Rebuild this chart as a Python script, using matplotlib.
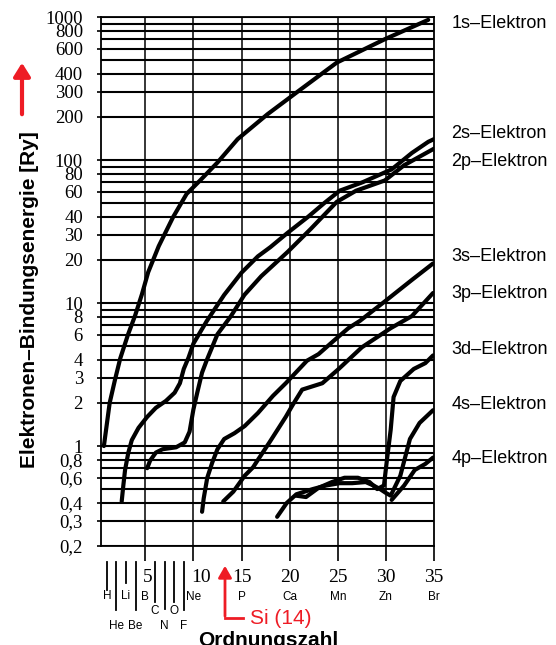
import numpy as np
import matplotlib
matplotlib.use('Agg')
import matplotlib.pyplot as plt
from matplotlib import transforms

plt.rcParams['font.family'] = ['Liberation Sans', 'DejaVu Sans']

# binding energies [Ry], x = atomic number
z_1s = [0.7, 1.3, 1.85, 2.4, 3.2, 3.95, 4.65, 5.3, 6.4, 7.9, 9.3, 10.7, 12.5, 14.6, 17.7, 21.1, 24.9, 29.9, 34.4]
e_1s = [1.0, 2.0, 2.9, 4.1, 6.0, 8.2, 11.5, 16.4, 25, 40, 58, 72, 96, 140, 209, 310, 480, 700, 955]

z_2s = [2.55, 2.72, 2.9, 3.24, 3.6, 4.3, 5.2, 6.1, 7.15, 8.05, 8.6, 9.0, 9.5, 10.0, 11.4, 13.2, 15.0, 16.7,
        18.0, 19.8, 21.9, 23.6, 25.2, 27.6, 30.6, 32.7, 34.4, 35.0]
e_2s = [0.41, 0.53, 0.68, 0.9, 1.1, 1.34, 1.6, 1.85, 2.07, 2.36, 2.75, 3.46, 4.16, 5.2, 7.5, 11.4, 16.3, 21.2,
        24.6, 31, 40, 50, 61, 70, 86, 112, 134, 140]

z_2p = [5.2, 5.5, 6.1, 6.8, 8.2, 9.1, 9.6, 10.0, 10.4, 10.9, 11.4, 12.5, 13.9, 15.3, 17.05, 19.8, 22.2, 24.9,
        26.9, 29.9, 31.9, 34.6, 35.0]
e_2p = [0.70, 0.79, 0.9, 0.95, 0.98, 1.06, 1.26, 1.8, 2.36, 3.26, 4.0, 6.05, 8.1, 11.4, 15.4, 22.8, 33, 51,
        61, 72, 92, 116, 120]

z_3s = [10.9, 11.07, 11.44, 11.97, 12.5, 13.2, 14.27, 15.33, 16.7, 18.26, 19.6, 21.8, 23.0, 24.6, 26.1, 27.3,
        30.0, 32.7, 34.9]
e_3s = [0.347, 0.43, 0.6, 0.77, 0.95, 1.12, 1.23, 1.38, 1.7, 2.24, 2.75, 3.95, 4.39, 5.46, 6.67, 7.5,
        10.4, 14.5, 18.9]

z_3p = [13.1, 14.15, 15.33, 16.2, 16.7, 17.9, 19.6, 20.3, 21.3, 23.4, 25.1, 27.5, 30.5, 32.7, 34.9]
e_3p = [0.41, 0.48, 0.62, 0.71, 0.8, 1.06, 1.6, 1.93, 2.48, 2.75, 3.46, 4.9, 6.67, 8.1, 11.75]

z_3d = [20.65, 21.7, 23.0, 24.4, 25.7, 27.1, 28.3, 29.1, 29.8, 30.1, 30.5, 30.8, 31.5, 32.9, 34.1, 34.9]
e_3d = [0.45, 0.44, 0.51, 0.56, 0.6, 0.6, 0.56, 0.5, 0.53, 0.79, 1.3, 2.2, 2.85, 3.46, 3.8, 4.3]

z_4s = [18.7, 19.7, 20.7, 22.4, 23.8, 25.2, 26.5, 27.9, 28.7, 29.4, 30.0, 30.5, 31.5, 32.5, 33.5, 34.9]
e_4s = [0.32, 0.40, 0.46, 0.50, 0.53, 0.55, 0.55, 0.56, 0.53, 0.50, 0.47, 0.45, 0.62, 1.12, 1.45, 1.78]

z_4p = [30.6, 31.9, 33.0, 34.1, 34.9]
e_4p = [0.42, 0.53, 0.68, 0.75, 0.83]

curves = [(z_1s, e_1s), (z_2s, e_2s), (z_2p, e_2p), (z_3s, e_3s), (z_3p, e_3p),
          (z_3d, e_3d), (z_4s, e_4s), (z_4p, e_4p)]

# right-hand curve names and where they sit
names = ['1s', '2s', '2p', '3s', '3p', '3d', '4s', '4p']
name_y = [900, 154, 98, 21.3, 11.7, 4.7, 1.95, 0.82]

y_ticks = [1000, 800, 600, 400, 300, 200, 100, 80, 60, 40, 30, 20, 10, 8, 6, 4, 3, 2,
           1, 0.8, 0.6, 0.4, 0.3, 0.2]
y_ticklabels = ['1000', '800', '600', '400', '300', '200', '100', '80', '60', '40', '30', '20',
                '10', '8', '6', '4', '3', '2', '1', '0,8', '0,6', '0,4', '0,3', '0,2']

x_num = [5, 10, 15, 20, 25, 30, 35]
x_num_elem = ['B', 'Ne', 'P', 'Ca', 'Mn', 'Zn', 'Br']
small_z = [1, 2, 3, 4, 6, 7, 8, 9]
small_elem = ['H', 'He', 'Li', 'Be', 'C', 'N', 'O', 'F']

W, H = 556, 645
fig = plt.figure(figsize=(W / 100, H / 100), dpi=100)
ax = fig.add_axes([101 / W, 1 - 546 / H, 333 / W, 529 / H])
ax.set_yscale('log')
ax.set_xlim(0.4, 35)
ax.set_ylim(0.2, 1000)

# horizontal grid: every 1..9 step of each decade
for dec in [0.1, 1, 10, 100]:
    for m in range(1, 10):
        v = m * dec
        if 0.2 <= v <= 1000:
            ax.axhline(v, color='black', lw=1.5, zorder=1)
ax.axhline(1000, color='black', lw=1.5, zorder=1)
for xv in x_num[:-1]:
    ax.axvline(xv, color='black', lw=1.1, zorder=1)

for z, e in curves:
    ax.plot(z, e, color='black', lw=3.0, solid_capstyle='round', solid_joinstyle='round', zorder=3)

for s in ax.spines.values():
    s.set_linewidth(1.3)

ax.yaxis.set_major_locator(matplotlib.ticker.FixedLocator(y_ticks))
ax.yaxis.set_minor_locator(matplotlib.ticker.NullLocator())
ax.set_yticklabels(y_ticklabels, family='Liberation Serif', fontsize=13.5)
ax.tick_params(axis='y', length=3, width=1.2, pad=10)
ax.set_xticks(x_num)
ax.set_xticklabels([])
ax.tick_params(axis='x', length=11, width=1.2)

# labels under the x axis
tr = transforms.blended_transform_factory(ax.transData, fig.transFigure)
def fy(py):
    return 1 - py / H

for z, el in zip(x_num, x_num_elem):
    if z in (5, 10):
        ax.text(z - 0.25, fy(577), str(z), transform=tr, ha='left', va='center',
                family='Liberation Serif', fontsize=14)
    else:
        ax.text(z, fy(577), str(z), transform=tr, ha='center', va='center',
                family='Liberation Serif', fontsize=14)
    ax.text(z, fy(597), el, transform=tr, ha='center', va='center', fontsize=8.5)

bar_end = [590, 610, 583, 610, 602, 609, 602, 610]
lab_y = [596, 626, 596, 626, 611, 626, 611, 626]
for z, el, be, ly in zip(small_z, small_elem, bar_end, lab_y):
    ax.plot([z, z], [fy(562), fy(be)], color='black', lw=1.3, transform=tr, clip_on=False)
    ax.text(z, fy(ly), el, transform=tr, ha='center', va='center', fontsize=8.5)

for nm, yv in zip(names, name_y):
    ax.text(36.8, yv, nm + '\u2013Elektron', ha='left', va='center', fontsize=13, clip_on=False)

fig.text(30 / W, fy(300), 'Elektronen\u2013Bindungsenergie [Ry]', rotation=90, ha='center', va='center',
         fontsize=15, fontweight='bold')
fig.text(268 / W, fy(641), 'Ordnungszahl', ha='center', va='center', fontsize=15, fontweight='bold')

# red hand-written annotations
red = '#ee1c25'
fig.patches.append(matplotlib.patches.FancyArrowPatch((22 / W, fy(117)), (22 / W, fy(60)),
                   transform=fig.transFigure, arrowstyle='-|>,head_length=8,head_width=5',
                   color=red, lw=3))
fig.lines.append(matplotlib.lines.Line2D([243 / W, 225 / W], [fy(618), fy(618)],
                 transform=fig.transFigure, color=red, lw=2))
fig.patches.append(matplotlib.patches.FancyArrowPatch((225 / W, fy(619)), (225 / W, fy(563)),
                   transform=fig.transFigure, arrowstyle='-|>,head_length=7,head_width=4',
                   color=red, lw=2))
fig.text(250 / W, fy(619), 'Si (14)', color=red, ha='left', va='center', fontsize=15)

fig.savefig('out.png', dpi=100)
